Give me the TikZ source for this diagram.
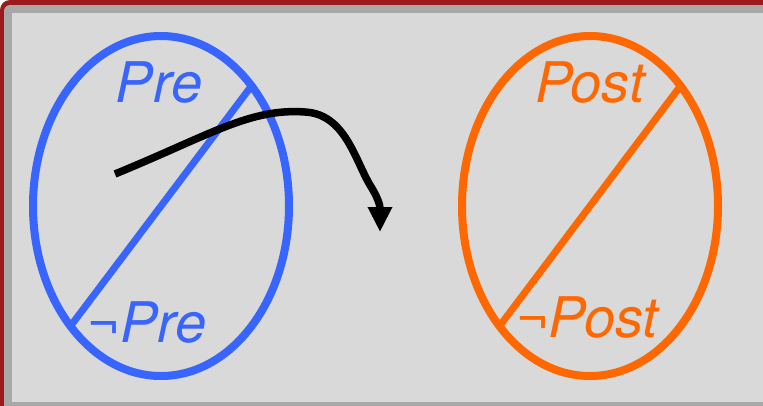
\documentclass[tikz,border=0pt]{standalone}
\usepackage{fontspec}
\setmainfont{TeX Gyre Heros}
\usetikzlibrary{shapes.geometric,arrows.meta}

\definecolor{frameRed}{RGB}{154,26,30}
\definecolor{frameGray}{RGB}{168,168,168}
\definecolor{panelGray}{RGB}{217,217,217}
\definecolor{preBlue}{RGB}{56,100,255}
\definecolor{postOrange}{RGB}{255,104,0}

\tikzset{
  oval/.style={ellipse, draw, line width=8pt, inner sep=0pt, outer sep=0pt,
    minimum width=256pt, minimum height=340pt},
  chord/.style={line width=7pt},
  setlabel/.style={anchor=base, inner sep=0pt, font=\fontsize{56}{60}\selectfont\itshape}
}

\begin{document}
\begin{tikzpicture}[x=1pt,y=-1pt]
    \useasboundingbox (0,0) rectangle (763,405);
    \clip (0,0) rectangle (763,405);
    % window frame
    \fill [frameRed, rounded corners=10pt] (0,0) rectangle (820,460);
    \fill [frameGray, rounded corners=6pt] (4,5) rectangle (810,450);
    \fill [panelGray] (12,13) rectangle (800,402);

    % left oval
    \node (pre) at (161,206) [oval, draw=preBlue] {};
    \draw [chord, preBlue] (pre.233) -- (pre.53);
    \node (preTxt) at (159,102) [setlabel, text=preBlue] {Pre};
    \node (notPreTxt) at (147,342) [setlabel, text=preBlue] {{\upshape ¬}Pre};

    % right oval
    \node (post) at (590,206) [oval, draw=postOrange] {};
    \draw [chord, postOrange] (post.233) -- (post.53);
    \node (postTxt) at (590,102) [setlabel, text=postOrange] {Post};
    \node (notPostTxt) at (587,337) [setlabel, text=postOrange] {{\upshape ¬}Post};

    % the mapping arrow
    \coordinate (from) at (115,174);
    \coordinate (to) at (380,232);
    \draw [line width=7.5pt, -{Triangle[length=25pt,width=23pt]}]
        (from) .. controls (210,135) and (250,108) .. (305,112)
               .. controls (345,114) and (355,160) .. (370,185)
               .. controls (378,198) and (380,205) .. (to);
\end{tikzpicture}
\end{document}
